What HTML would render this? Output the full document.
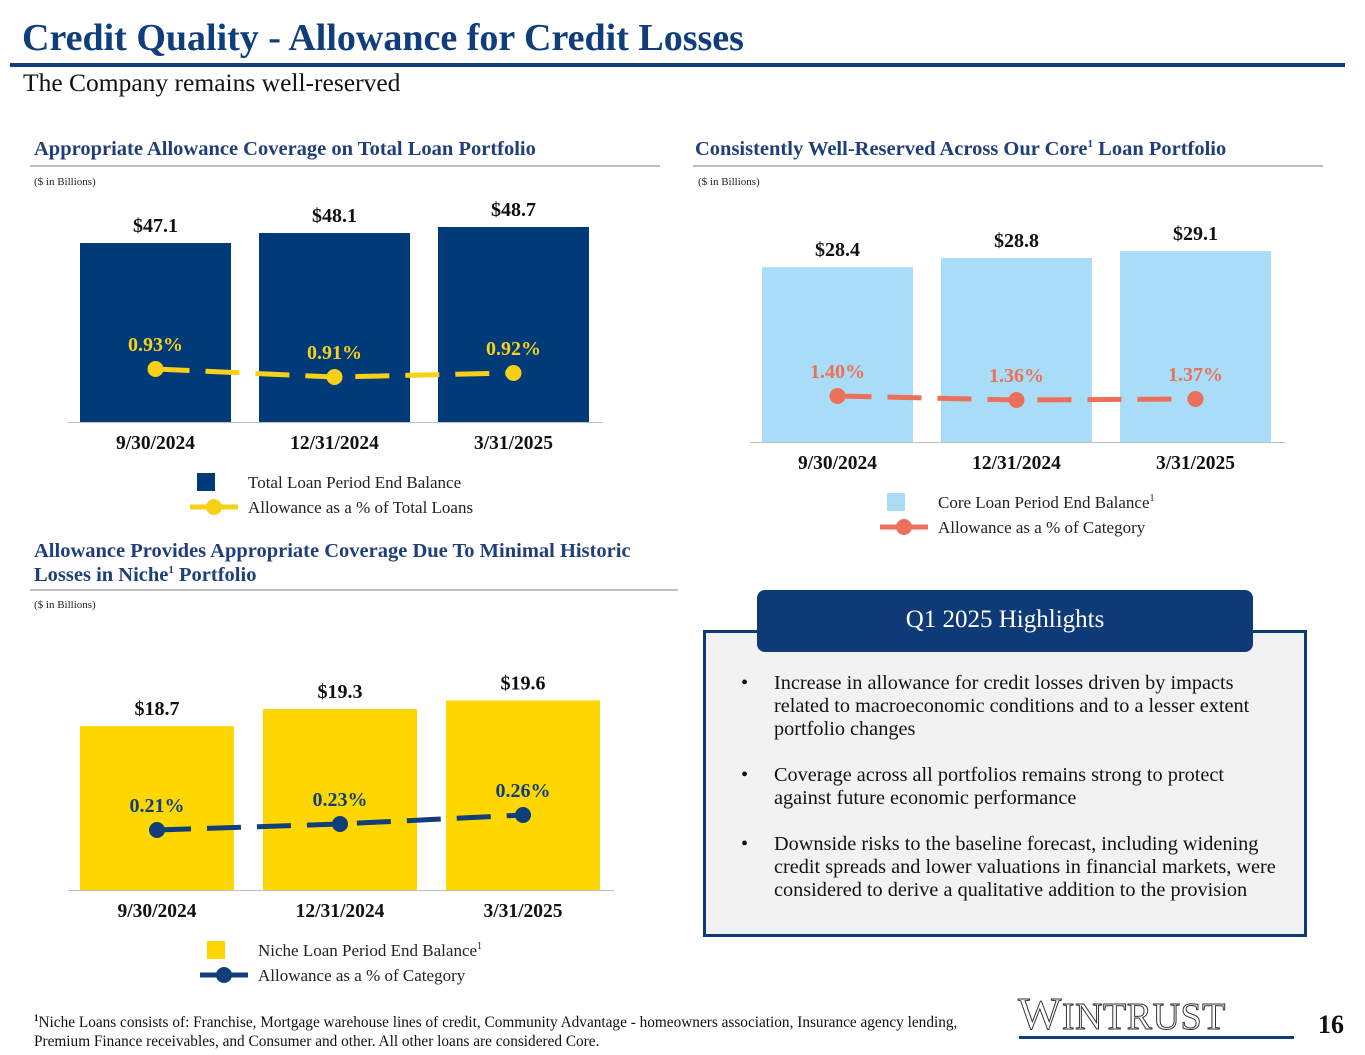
<!DOCTYPE html>
<html><head><meta charset="utf-8">
<style>
body{margin:0;width:1365px;height:1055px;position:relative;background:#fff;font-family:"Liberation Serif",serif;overflow:hidden}
.a{position:absolute;white-space:nowrap}
.h{font-weight:bold;color:#1F3F7A;font-size:20.5px}
.sm{font-size:11px;color:#222}
</style></head><body>
<div class="a" style="left:22px;top:16px;font-size:38px;font-weight:bold;color:#0F3E7B">Credit Quality - Allowance for Credit Losses</div>
<div class="a" style="left:10px;top:63px;width:1335px;height:4px;background:#0F3E7B"></div>
<div class="a" style="left:23px;top:68px;font-size:25.5px;color:#111">The Company remains well-reserved</div>

<div class="a h" style="left:34px;top:138px">Appropriate Allowance Coverage on Total Loan Portfolio</div>
<div class="a" style="left:30px;top:165px;width:630px;height:2px;background:#BFBFBF"></div>
<div class="a sm" style="left:34px;top:176px">($ in Billions)</div>

<div class="a h" style="left:695px;top:138px">Consistently Well-Reserved Across Our Core<sup style="font-size:11px">1</sup> Loan Portfolio</div>
<div class="a" style="left:693px;top:165px;width:630px;height:2px;background:#BFBFBF"></div>
<div class="a sm" style="left:698px;top:176px">($ in Billions)</div>

<div class="a h" style="left:34px;top:539px;line-height:24px">Allowance Provides Appropriate Coverage Due To Minimal Historic<br>Losses in Niche<sup style="font-size:11px;line-height:0">1</sup> Portfolio</div>
<div class="a" style="left:30px;top:589px;width:648px;height:2px;background:#BFBFBF"></div>
<div class="a sm" style="left:34px;top:599px">($ in Billions)</div>

<svg id="charts" class="a" style="left:0;top:0" width="1365" height="1055"></svg>

<div class="a" style="left:703px;top:630px;width:598px;height:301px;border:3px solid #0F3A78;background:#F2F2F2"></div>
<div class="a" style="left:757px;top:590px;width:496px;height:62px;border-radius:8px;background:#0F3A78;color:#fff;font-size:25px;text-align:center;line-height:60px">Q1 2025 Highlights</div>
<div class="a" style="left:741px;top:672px;font-size:20.3px;color:#111;line-height:23px">
<div style="display:flex;margin-bottom:23px"><span style="width:33px;flex:none">•</span><span>Increase in allowance for credit losses driven by impacts<br>related to macroeconomic conditions and to a lesser extent<br>portfolio changes</span></div>
<div style="display:flex;margin-bottom:23px"><span style="width:33px;flex:none">•</span><span>Coverage across all portfolios remains strong to protect<br>against future economic performance</span></div>
<div style="display:flex"><span style="width:33px;flex:none">•</span><span>Downside risks to the baseline forecast, including widening<br>credit spreads and lower valuations in financial markets, were<br>considered to derive a qualitative addition to the provision</span></div>
</div>

<div class="a" style="left:34px;top:1009px;font-size:15.3px;color:#111;line-height:19px"><sup style="font-size:9px;font-weight:bold">1</sup>Niche Loans consists of: Franchise, Mortgage warehouse lines of credit, Community Advantage - homeowners association, Insurance agency lending,<br>Premium Finance receivables, and Consumer and other. All other loans are considered Core.</div>
<div class="a" style="left:1018px;top:987px;font-size:46px;letter-spacing:0.5px;color:#fff;-webkit-text-stroke:1px #333;font-family:'Liberation Serif',serif">W<span style="font-size:38px">INTRUST</span></div>
<div class="a" style="left:1019px;top:1036px;width:275px;height:3px;background:#0F3E7B"></div>
<div class="a" style="left:1318px;top:1010px;font-size:26px;font-weight:bold;color:#111">16</div>

<script>
const categories = ["9/30/2024","12/31/2024","3/31/2025"];
const totalBalance = [47.1, 48.1, 48.7];
const totalPct = [0.93, 0.91, 0.92];
const coreBalance = [28.4, 28.8, 29.1];
const corePct = [1.40, 1.36, 1.37];
const nicheBalance = [18.7, 19.3, 19.6];
const nichePct = [0.21, 0.23, 0.26];

const svg = document.getElementById('charts');
const NS = 'http://www.w3.org/2000/svg';
function mk(tag, attrs){const e=document.createElementNS(NS,tag);for(const k in attrs)e.setAttribute(k,attrs[k]);svg.appendChild(e);return e;}

function chart(cfg){
  const yB = v => cfg.base - (v - cfg.bMin) * cfg.bK;
  const yL = v => cfg.lY0 + (cfg.lRef - v) * cfg.lK;
  const xC = i => cfg.x0 + cfg.bw/2 + i*cfg.step;
  mk('line',{x1:cfg.x0-12,x2:cfg.x0+2*cfg.step+cfg.bw+14,y1:cfg.base+0.5,y2:cfg.base+0.5,stroke:'#BFBFBF','stroke-width':1});
  cfg.bal.forEach((v,i)=>{
    const r=mk('rect',{x:cfg.x0+i*cfg.step,y:yB(v),width:cfg.bw,height:cfg.base-yB(v),fill:cfg.barColor});
    
    
    const t=mk('text',{x:xC(i),y:yB(v)-11,'text-anchor':'middle','font-size':20,'font-weight':'bold',fill:'#111','font-family':'Liberation Serif'});
    t.textContent='$'+v.toFixed(1);
    
    
    const c=mk('text',{x:xC(i),y:cfg.base+27,'text-anchor':'middle','font-size':19.5,'font-weight':'bold',fill:'#111','font-family':'Liberation Serif'});
    c.textContent=categories[i];
    
    
  });
  const pts=cfg.pct.map((v,i)=>xC(i)+','+yL(v)).join(' ');
  const pl=mk('polyline',{points:pts,fill:'none',stroke:cfg.lineColor,'stroke-width':5,'stroke-dasharray':'34,16'});
  
  
  cfg.pct.forEach((v,i)=>{
    const c=mk('circle',{cx:xC(i),cy:yL(v),r:8,fill:cfg.lineColor});
    
    
    const t=mk('text',{x:xC(i),y:yL(v)-18,'text-anchor':'middle','font-size':20,'font-weight':'bold',fill:cfg.lblColor,'font-family':'Liberation Serif'});
    t.textContent=v.toFixed(2)+'%';
    
    
  });
  const lx=cfg.legX, ly=cfg.legY;
  const sq=mk('rect',{x:lx-51,y:ly-9,width:18,height:18,fill:cfg.barColor});
  
  
  const ll=mk('line',{x1:lx-58,x2:lx-10,y1:ly+25,y2:ly+25,stroke:cfg.lineColor,'stroke-width':5});
  
  
  const lc=mk('circle',{cx:lx-34,cy:ly+25,r:8,fill:cfg.lineColor});
  
  
  const t1=mk('text',{x:lx,y:ly+6,'font-size':17,fill:'#222','font-family':'Liberation Serif'});
  t1.innerHTML=cfg.leg1;
  
  
  const t2=mk('text',{x:lx,y:ly+31,'font-size':17,fill:'#222','font-family':'Liberation Serif'});
  t2.textContent=cfg.leg2;
  
  
}
chart({name:'total',bal:totalBalance,pct:totalPct,x0:80,bw:151,step:179,base:422,bMin:29.2,bK:10,lY0:369,lRef:0.93,lK:400,barColor:'#003A79',lineColor:'#F7D117',lblColor:'#F7D117',legX:248,legY:482,leg1:'Total Loan Period End Balance',leg2:'Allowance as a % of Total Loans'});
chart({name:'core',bal:coreBalance,pct:corePct,x0:762,bw:151,step:179,base:442,bMin:20.8,bK:23,lY0:396,lRef:1.40,lK:100,barColor:'#A9DDF7',lineColor:'#EC7059',lblColor:'#EC7059',legX:938,legY:502,leg1:'Core Loan Period End Balance<tspan dy="-7" font-size="10">1</tspan>',leg2:'Allowance as a % of Category'});
chart({name:'niche',bal:nicheBalance,pct:nichePct,x0:80,bw:154,step:183,base:890,bMin:12.95,bK:28.5,lY0:830,lRef:0.21,lK:300,barColor:'#FFD700',lineColor:'#0F3E7B',lblColor:'#0F3E7B',legX:258,legY:950,leg1:'Niche Loan Period End Balance<tspan dy="-7" font-size="10">1</tspan>',leg2:'Allowance as a % of Category'});
</script>
</body></html>
